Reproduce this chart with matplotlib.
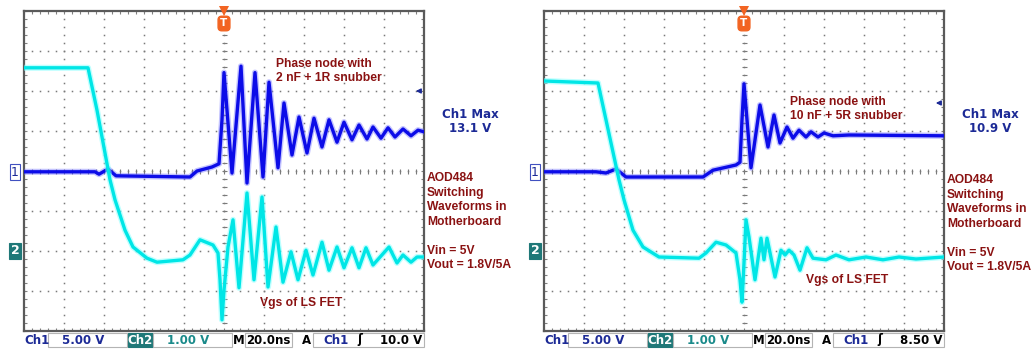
import matplotlib.pyplot as plt
from matplotlib.patches import Rectangle

W, H = 1036, 360

# time in ns (20 ns/div), Ch1 phase node in V (5 V/div), Ch2 Vgs in V (1 V/div)
# left capture: 2 nF + 1R snubber
t1_a = [-100, -67, -64.5, -62.5, -58, -54, -17, -13.5, -6, -2.5, -1, 0, 4, 8.5, 11.5,
        15.5, 19.5, 22.5, 27, 30, 34, 37.5, 41.5, 45, 49, 52.5, 56.5, 60, 64, 67.5,
        71.5, 74.5, 78.5, 82, 85.5, 89.5, 93.5, 97, 100]
v1_a = [-0.1, -0.1, -0.1, -0.4, 0.25, -0.6, -0.75, 0.0, 0.5, 0.9, 6.4, 12.3, -0.25, 13.1,
        -1.5, 12.3, -0.75, 11.1, 0.4, 8.5, 2.0, 6.75, 2.25, 6.6, 3.0, 6.4, 3.6, 6.1, 3.9,
        5.75, 4.0, 5.5, 4.1, 5.4, 4.25, 5.25, 4.4, 5.1, 4.9]
t2_a = [-100, -68, -63.5, -57, -54.5, -49.5, -45.5, -38.5, -33.5, -20.5, -17, -12, -5.5,
        -3, -2, -1, 0, 2, 4.5, 7.5, 11.5, 15, 19, 22, 26, 29.5, 33.5, 37, 41, 44.5, 49,
        52.5, 56.5, 60, 64, 67.5, 71, 74.5, 82.5, 86.5, 89.5, 93.5, 96.5, 99.5]
v2_a = [4.58, 4.58, 3.52, 1.78, 1.28, 0.52, 0.1, -0.18, -0.28, -0.22, -0.1, 0.28, 0.15,
        -0.05, -0.72, -1.72, -0.98, 0.1, 0.78, -0.92, 1.45, -0.72, 1.35, -0.9, 0.6,
        -0.78, -0.02, -0.72, 0.02, -0.6, 0.22, -0.48, 0.1, -0.42, 0.08, -0.42, 0.08,
        -0.35, 0.1, -0.3, -0.1, -0.28, -0.15, -0.15]

# right capture: 10 nF + 5R snubber
t1_b = [-100, -74, -69, -64, -59, -20.5, -15.5, -4, -2, -1, 0, 3.5, 8, 12, 15, 18, 21.5,
        24.5, 27.5, 31, 33.5, 37, 40, 44.5, 52.5, 100]
v1_b = [-0.1, -0.1, -0.25, 0.25, -0.75, -0.75, 0.1, 0.75, 1.1, 6.4, 10.9, 0.4, 8.25, 3.0,
        7.0, 3.5, 5.5, 4.1, 5.1, 4.25, 4.9, 4.25, 4.75, 4.4, 4.5, 4.4]
t2_b = [-100, -73, -62.5, -60, -55.5, -50.5, -42.5, -22.5, -19, -14, -9, -4, -2, -1, 0, 1,
        2.5, 5.5, 8.5, 10, 11.5, 15.5, 18.5, 20.5, 22.5, 25, 28, 31.5, 34.5, 41, 46, 52.5,
        61, 69.5, 77.5, 86, 100]
v2_b = [4.25, 4.2, 1.78, 1.28, 0.52, 0.1, -0.15, -0.18, -0.05, 0.22, 0.15, -0.05, -0.72,
        -1.28, -0.3, 0.78, 0.35, -0.72, 0.32, -0.22, 0.32, -0.65, 0.02, -0.1, 0.02, -0.1,
        -0.48, 0.08, -0.18, -0.22, -0.1, -0.22, -0.15, -0.22, -0.15, -0.2, -0.15]

ch1_max = ["13.1 V", "10.9 V"]
trig_level = ["10.0 V", "8.50 V"]
trig_volts = [10.0, 8.5]
snubber = ["2 nF + 1R snubber", "10 nF + 5R snubber"]

ch1_scale, ch2_scale = 5.0, 1.0   # V/div
ch1_off, ch2_off = 0, -2          # div

NAVY = "#1c2a96"
RED = "#8a1212"
TEAL = "#1f7878"
BLUE = "#0c0ce8"
CYAN = "#00e6e6"

fig = plt.figure(figsize=(W / 100, H / 100), dpi=100)
fig.patch.set_facecolor("white")


def ftext(x, y, s, **kw):
    kw.setdefault("va", "center")
    return fig.text(x / W, 1 - y / H, s, **kw)


def fbox(x1, x2, fc="white", ec="#b4b4b4"):
    fig.patches.append(Rectangle((x1 / W, 1 - 347 / H), (x2 - x1) / W, 14 / H,
                                 transform=fig.transFigure, fc=fc, ec=ec, lw=0.8))


red_font = dict(family="Liberation Sans", weight="bold", size=8.7, color=RED)
scope_font = dict(family="DejaVu Sans", weight="bold", size=8.5)


def draw_panel(x0, t1, v1, t2, v2, k, phase_xy, vgs_xy, note_dy):
    ax = fig.add_axes([x0 / W, 29 / H, 400 / W, 320 / H])
    ax.set_xlim(-100, 100)
    ax.set_ylim(-4, 4)
    for s in ax.spines.values():
        s.set_color("#5a5a5a")
        s.set_linewidth(1.6)
    ax.set_xticks(range(-100, 101, 20))
    ax.set_yticks(range(-4, 5))
    ax.set_xticks([i * 4 for i in range(-25, 26)], minor=True)
    ax.set_yticks([i * 0.2 for i in range(-20, 21)], minor=True)
    ax.tick_params(which="both", direction="in", length=2.2, width=0.8, color="#808080",
                   top=True, right=True, labelbottom=False, labelleft=False)

    # dotted graticule
    dots_y = [i * 0.2 for i in range(-20, 21)]
    dots_x = [i * 4 for i in range(-25, 26)]
    for gx in range(-80, 81, 20):
        ax.plot([gx] * len(dots_y), dots_y, ls="none", marker="s", ms=1.1, mew=0,
                color="#7a7a7a", zorder=1)
    for gy in range(-3, 4):
        ax.plot(dots_x, [gy] * len(dots_x), ls="none", marker="s", ms=1.1, mew=0,
                color="#7a7a7a", zorder=1)
    ax.plot([0] * len(dots_y), dots_y, ls="none", marker="_", ms=3.6, mew=0.8,
            color="#7a7a7a", zorder=1)
    ax.plot(dots_x, [0] * len(dots_x), ls="none", marker="|", ms=3.6, mew=0.8,
            color="#7a7a7a", zorder=1)

    y1 = [v / ch1_scale + ch1_off for v in v1]
    y2 = [v / ch2_scale + ch2_off for v in v2]
    ax.plot(t1, y1, color="#6a6aff", lw=4.4, alpha=0.4, solid_joinstyle="round", zorder=3)
    ax.plot(t1, y1, color=BLUE, lw=2.4, solid_joinstyle="round", zorder=4)
    ax.plot(t2, y2, color="#80ffff", lw=4.4, alpha=0.5, solid_joinstyle="round", zorder=5)
    ax.plot(t2, y2, color=CYAN, lw=2.4, solid_joinstyle="round", zorder=6)

    # trigger level arrow
    lvl = trig_volts[k] / ch1_scale + ch1_off
    ax.annotate("", xy=(94.5, lvl), xytext=(99, lvl),
                arrowprops=dict(arrowstyle="-|>", color=NAVY, lw=1.0, mutation_scale=7))
    # trigger position
    ax.plot([0], [4.0], marker="v", ms=6.5, color="#f26422", mew=0, clip_on=False, zorder=7)
    ftext(x0 + 200, 23.5, "T", ha="center", color="white", family="DejaVu Sans",
          weight="bold", size=7.5,
          bbox=dict(boxstyle="round,pad=0.22,rounding_size=0.35", fc="#f26422", ec="#f26422"))

    # channel markers
    ftext(x0 - 9, 172, "1", ha="center", color=NAVY, size=9, family="DejaVu Sans",
          bbox=dict(boxstyle="square,pad=0.12", fc="white", ec="#4050c0", lw=0.8))
    ftext(x0 - 9, 251, "2", ha="center", color="white", size=9, family="DejaVu Sans",
          weight="bold", bbox=dict(boxstyle="square,pad=0.12", fc=TEAL, ec=TEAL, lw=0.8))

    # annotations
    px, py = phase_xy
    ftext(px, py, "Phase node with", **red_font)
    ftext(px, py + 14, snubber[k], **red_font)
    ftext(vgs_xy[0], vgs_xy[1], "Vgs of LS FET", **red_font)
    ftext(x0 + 446, 115, "Ch1 Max", ha="center", color=NAVY, **scope_font)
    ftext(x0 + 446, 128, ch1_max[k], ha="center", color=NAVY, **scope_font)
    notes = [("AOD484", 178), ("Switching", 193), ("Waveforms in", 207),
             ("Motherboard", 222), ("Vin = 5V", 251), ("Vout = 1.8V/5A", 265)]
    for s, yy in notes:
        ftext(x0 + 403, yy + note_dy, s, **red_font)

    # status bar
    ftext(x0, 340, "Ch1", color=NAVY, **scope_font)
    fbox(x0 + 24, x0 + 103)
    ftext(x0 + 38, 340, "%.2f V" % ch1_scale, color=NAVY, **scope_font)
    fbox(x0 + 104, x0 + 129, fc=TEAL, ec=TEAL)
    ftext(x0 + 116.5, 340, "Ch2", ha="center", color="white", **scope_font)
    fbox(x0 + 129, x0 + 208)
    ftext(x0 + 143, 340, "%.2f V" % ch2_scale, color="#1a8a8a", **scope_font)
    ftext(x0 + 209, 340, "M", color="black", **scope_font)
    fbox(x0 + 221, x0 + 268)
    ftext(x0 + 244.5, 340, "20.0ns", ha="center", color="black", **scope_font)
    ftext(x0 + 283, 340, "A", ha="center", color="black", **scope_font)
    fbox(x0 + 289, x0 + 400)
    ftext(x0 + 299, 340, "Ch1", color=NAVY, **scope_font)
    ftext(x0 + 336, 340, "ʃ", ha="center", color="black", **scope_font)
    ftext(x0 + 398, 340, trig_level[k], ha="right", color="black", **scope_font)
    return ax


draw_panel(24, t1_a, v1_a, t2_a, v2_a, 0, (276, 64), (260, 303), 0)
draw_panel(544, t1_b, v1_b, t2_b, v2_b, 1, (790, 102), (806, 280), 2)

fig.savefig("out.png", dpi=100, facecolor="white")
